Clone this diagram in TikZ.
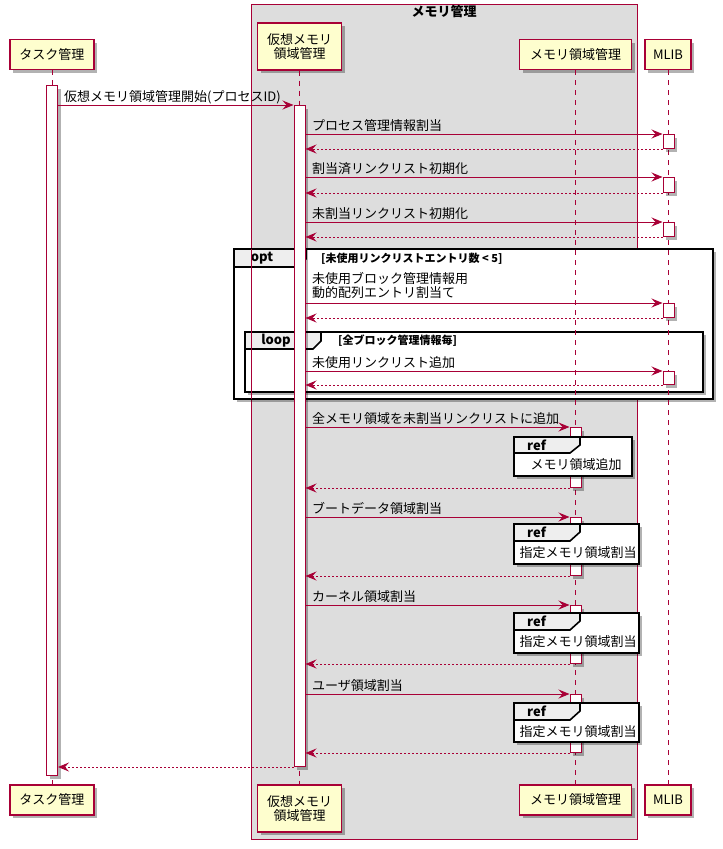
\documentclass[tikz,border=0pt]{standalone}
\usepackage{fontspec}
\setmainfont{Noto Sans CJK JP}
\usetikzlibrary{arrows.meta,shadows}
\definecolor{umlred}{HTML}{A80036}
\definecolor{partfill}{HTML}{FEFECE}
\definecolor{boxgray}{HTML}{DDDDDD}
\definecolor{tabgray}{HTML}{EEEEEE}
\newcommand\msgfont{\fontsize{13}{14}\selectfont}
\newcommand\condfont{\bfseries\fontsize{11}{13}\selectfont}
\tikzset{
  softshadow/.style={drop shadow={shadow xshift=3pt,shadow yshift=-3pt,opacity=0.3,fill=black}},
  participant/.style={draw=umlred,line width=1.3pt,fill=partfill,inner sep=0pt,
    align=center,font=\msgfont,softshadow},
  lifeline/.style={umlred,line width=0.9pt,dash pattern=on 5pt off 5pt},
  actbar/.style={draw=umlred,line width=1pt,fill=white,minimum width=11pt,
    inner sep=0pt,anchor=north,softshadow},
  msg/.style={umlred,line width=1pt,-{Stealth[length=11pt,width=9pt,inset=4pt]}},
  ret/.style={msg,dash pattern=on 2pt off 2pt},
  lbl/.style={font=\msgfont,anchor=base west,inner sep=0pt},
  fragment/.style={draw=black,line width=1.6pt,fill=white,softshadow},
  fragtab/.style={draw=black,line width=1.6pt,fill=tabgray,line join=miter},
  tabtext/.style={font=\bfseries\fontsize{13}{14}\selectfont,inner sep=0pt},
  condtext/.style={font=\condfont,inner sep=0pt,anchor=west},
  reftext/.style={font=\msgfont,inner sep=0pt},
}
\begin{document}
\begin{tikzpicture}[x=1pt,y=-1pt]
\useasboundingbox (0,0) rectangle (723,849);

% grouping box around the memory management participants
\fill[boxgray] (251,4) rectangle (637,839);
\draw[umlred,line width=1pt] (251,4) rectangle (637,839);
\node[font=\bfseries\fontsize{13}{14}\selectfont,inner sep=0pt] (grouptitle) at (444,12) {メモリ管理};

% opt / loop fragments
\draw[fragment] (234,249) rectangle (713,399);
\draw[fragtab] (234,249) -- (306,249) -- (306,259) -- (296,267) -- (234,267) -- cycle;
\node[tabtext] (optlbl) at (262,258.5) {opt};
\node[condtext] (optcond) at (321,258.5) {[未使用リンクリストエントリ数 < 5]};

\draw[fragment] (245,332) rectangle (703,392);
\draw[fragtab] (245,332) -- (321,332) -- (321,341) -- (313,349) -- (245,349) -- cycle;
\node[tabtext] (looplbl) at (276,341) {loop};
\node[condtext] (loopcond) at (338,341) {[全ブロック管理情報毎]};

\draw[umlred,line width=1pt] (251,249) -- (251,399);

% participants
\node[participant,minimum width=84pt,minimum height=30pt] (taskT) at (52,54.5) {タスク管理};
\node[participant,minimum width=84pt,minimum height=47pt] (virtT) at (299.5,46.5) {仮想メモリ\\領域管理};
\node[participant,minimum width=112pt,minimum height=30pt] (memT) at (575.5,54.5) {メモリ領域管理};
\node[participant,minimum width=46pt,minimum height=30pt] (libT) at (668,54.5) {MLIB};

\node[participant,minimum width=84pt,minimum height=30pt] (taskB) at (52,800) {タスク管理};
\node[participant,minimum width=84pt,minimum height=47pt] (virtB) at (299.5,808.5) {仮想メモリ\\領域管理};
\node[participant,minimum width=112pt,minimum height=30pt] (memB) at (575.5,800) {メモリ領域管理};
\node[participant,minimum width=46pt,minimum height=30pt] (libB) at (668,800) {MLIB};

% lifelines
\draw[lifeline] (taskT) -- (taskB);
\draw[lifeline] (virtT) -- (virtB);
\draw[lifeline] (memT) -- (memB);
\draw[lifeline] (libT) -- (libB);

% activation bars
\node[actbar,minimum height=690pt] (taskA) at (52,85) {};
\node[actbar,minimum height=661pt] (virtA) at (299.5,105) {};
\node[actbar,minimum height=14pt] (lib1) at (668.5,134) {};
\node[actbar,minimum height=15pt] (lib2) at (668.5,177) {};
\node[actbar,minimum height=14pt] (lib3) at (668.5,222) {};
\node[actbar,minimum height=14pt] (lib4) at (668.5,303) {};
\node[actbar,minimum height=13pt] (lib5) at (668.5,371) {};
\node[actbar,minimum height=60pt] (mem1) at (575.5,427) {};
\node[actbar,minimum height=58pt] (mem2) at (575.5,517) {};
\node[actbar,minimum height=58pt] (mem3) at (575.5,605) {};
\node[actbar,minimum height=58pt] (mem4) at (575.5,694) {};

% ref fragments
\draw[fragment] (514,437) rectangle (632,476);
\draw[fragtab] (514,437) -- (580,437) -- (580,445) -- (570,453) -- (514,453) -- cycle;
\node[tabtext,anchor=west] (ref1lbl) at (527,445) {ref};
\node[reftext] (ref1txt) at (576,464.5) {メモリ領域追加};

\draw[fragment] (514,524) rectangle (639,564);
\draw[fragtab] (514,524) -- (580,524) -- (580,532) -- (570,541) -- (514,541) -- cycle;
\node[tabtext,anchor=west] (ref2lbl) at (527,532.5) {ref};
\node[reftext] (ref2txt) at (578,553) {指定メモリ領域割当};

\draw[fragment] (514,613) rectangle (639,653);
\draw[fragtab] (514,613) -- (580,613) -- (580,621) -- (570,630) -- (514,630) -- cycle;
\node[tabtext,anchor=west] (ref3lbl) at (527,621.5) {ref};
\node[reftext] (ref3txt) at (578,642) {指定メモリ領域割当};

\draw[fragment] (514,703) rectangle (639,742);
\draw[fragtab] (514,703) -- (580,703) -- (580,711) -- (570,720) -- (514,720) -- cycle;
\node[tabtext,anchor=west] (ref4lbl) at (527,711.5) {ref};
\node[reftext] (ref4txt) at (578,731.5) {指定メモリ領域割当};

% messages
\draw[msg] (taskA.east |- virtA.north) -- (virtA.north west);
\node[lbl] (m1) at (64,101) {仮想メモリ領域管理開始(プロセスID)};

\draw[msg] (virtA.east |- lib1.north) -- (lib1.north west);
\node[lbl] (m2) at (312,130) {プロセス管理情報割当};
\draw[ret] (lib1.south west) -- (virtA.east |- lib1.south);

\draw[msg] (virtA.east |- lib2.north) -- (lib2.north west);
\node[lbl] (m3) at (312,173) {割当済リンクリスト初期化};
\draw[ret] (lib2.south west) -- (virtA.east |- lib2.south);

\draw[msg] (virtA.east |- lib3.north) -- (lib3.north west);
\node[lbl] (m4) at (312,218) {未割当リンクリスト初期化};
\draw[ret] (lib3.south west) -- (virtA.east |- lib3.south);

\draw[msg] (virtA.east |- lib4.north) -- (lib4.north west);
\node[font=\msgfont,anchor=north west,inner sep=0pt,align=left] (m5) at (312,272.5) {未使用ブロック管理情報用\\動的配列エントリ割当て};
\draw[ret] (lib4.south west) -- (virtA.east |- lib4.south);

\draw[msg] (virtA.east |- lib5.north) -- (lib5.north west);
\node[lbl] (m6) at (312,367) {未使用リンクリスト追加};
\draw[ret] (lib5.south west) -- (virtA.east |- lib5.south);

\draw[msg] (virtA.east |- mem1.north) -- (mem1.north west);
\node[lbl] (m7) at (312,423) {全メモリ領域を未割当リンクリストに追加};
\draw[ret] (mem1.south west) -- (virtA.east |- mem1.south);

\draw[msg] (virtA.east |- mem2.north) -- (mem2.north west);
\node[lbl] (m8) at (312,513) {ブートデータ領域割当};
\draw[ret] (mem2.south west) -- (virtA.east |- mem2.south);

\draw[msg] (virtA.east |- mem3.north) -- (mem3.north west);
\node[lbl] (m9) at (312,601) {カーネル領域割当};
\draw[ret] (mem3.south west) -- (virtA.east |- mem3.south);

\draw[msg] (virtA.east |- mem4.north) -- (mem4.north west);
\node[lbl] (m10) at (312,690) {ユーザ領域割当};
\draw[ret] (mem4.south west) -- (virtA.east |- mem4.south);

\draw[ret] (virtA.south west) -- (taskA.east |- virtA.south);
\end{tikzpicture}
\end{document}
